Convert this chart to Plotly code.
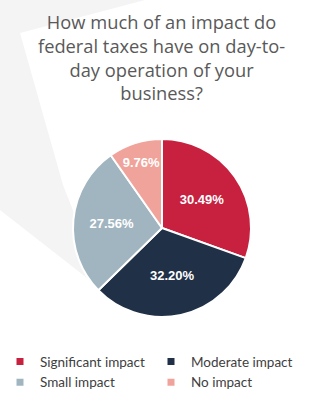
import plotly.graph_objects as go

categories = ["Significant impact", "Moderate impact", "Small impact", "No impact"]
values = [30.49, 32.20, 27.56, 9.76]
colors = ["#C8203F", "#1F3047", "#A1B5C0", "#F0A39A"]
title_lines = ["How much of an impact do", "federal taxes have on day-to-", "day operation of your", "business?"]

W, H = 323, 399
cx, cy, r = 162, 228, 89

fig = go.Figure()
fig.add_trace(go.Pie(
    labels=categories, values=values, sort=False, direction="clockwise", rotation=0,
    marker=dict(colors=colors, line=dict(color="white", width=2)),
    texttemplate="%{value:.2f}%", textposition="inside", insidetextorientation="horizontal",
    textfont=dict(family="Arial", size=13, color="white", weight="bold"),
    hoverinfo="label+value", showlegend=False,
    domain=dict(x=[(cx - r) / W, (cx + r) / W], y=[(H - cy - r) / H, (H - cy + r) / H]),
))
for name, c in zip(categories, colors):
    fig.add_trace(go.Scatter(
        x=[None], y=[None], mode="markers", name=name,
        marker=dict(symbol="square", size=7, color=c), showlegend=True,
    ))

fig.add_annotation(
    text="<br>".join(title_lines), x=0.5, y=1, xref="paper", yref="paper",
    xanchor="center", yanchor="top", yshift=-7, showarrow=False, align="center",
    font=dict(family="Open Sans", size=18.3, color="#595959"),
)

# faint background watermark (decorative)
def px(x, y):
    return f"{x / W:.4f},{1 - y / H:.4f}"
wm = [(0, 0), (145, 0), (20, 33), (63, 185), (105, 292), (0, 210)]
path = "M " + " L ".join(px(x, y) for x, y in wm) + " Z"
fig.add_shape(type="path", path=path, xref="paper", yref="paper",
              fillcolor="#F4F4F4", line=dict(width=0), layer="below")

fig.update_layout(
    width=W, height=H, margin=dict(l=0, r=0, t=0, b=0),
    paper_bgcolor="white", plot_bgcolor="rgba(0,0,0,0)",
    xaxis=dict(visible=False, range=[0, 1]), yaxis=dict(visible=False, range=[0, 1]),
    legend=dict(orientation="h", x=0.0, y=0.132, xanchor="left", yanchor="top",
                entrywidth=106, entrywidthmode="pixels", itemwidth=30,
                font=dict(family="Lato", size=13.5, color="#404040"),
                tracegroupgap=0),
)
fig.write_html("out.html")
